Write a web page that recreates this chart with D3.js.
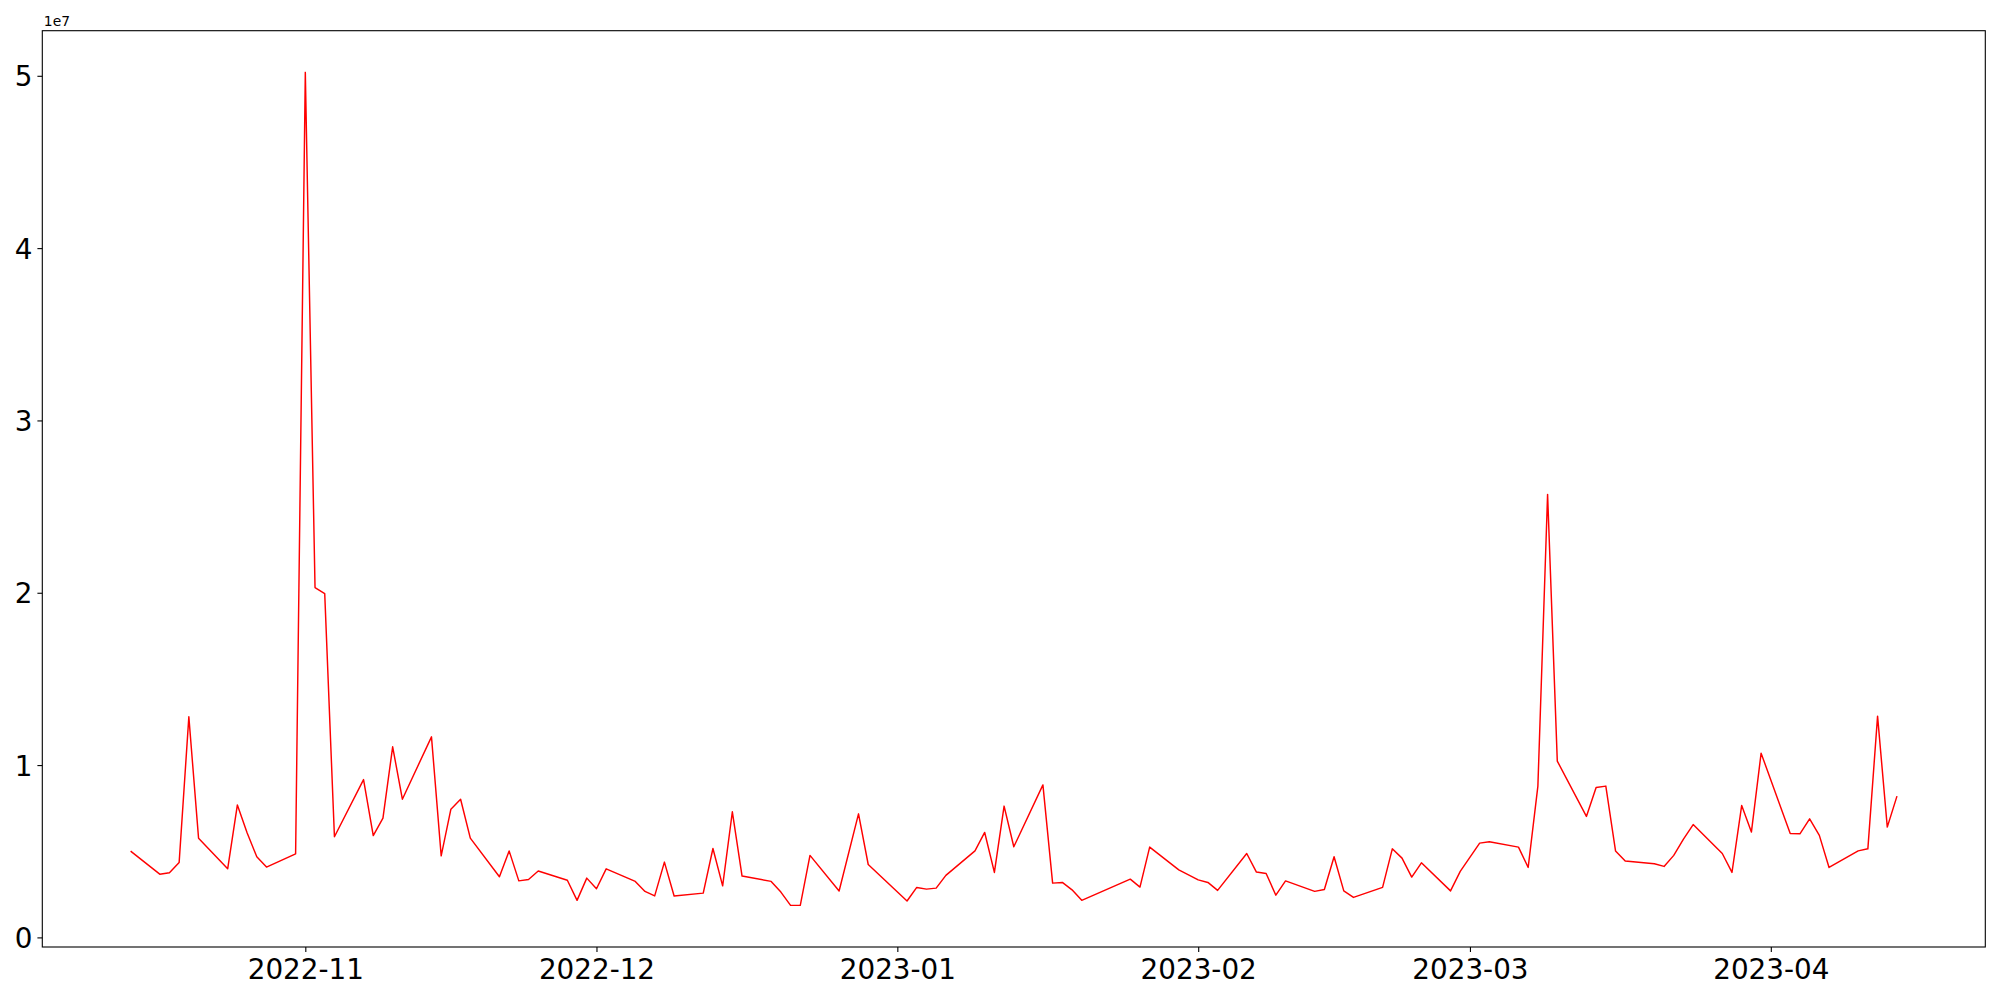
<!DOCTYPE html>
<html>
<head>
<meta charset="utf-8">
<script src="https://cdn.jsdelivr.net/npm/d3@7"></script>
<style>
  html, body { margin: 0; padding: 0; background: #fff; }
  svg { display: block; font-family: "DejaVu Sans", sans-serif; }
</style>
</head>
<body>
<svg id="chart" width="2000" height="1000"></svg>
<script>
const dates = [
  "2022-10-14","2022-10-17","2022-10-18","2022-10-19","2022-10-20","2022-10-21",
  "2022-10-24","2022-10-25","2022-10-26","2022-10-27","2022-10-28","2022-10-31",
  "2022-11-01","2022-11-02","2022-11-03","2022-11-04","2022-11-07","2022-11-08",
  "2022-11-09","2022-11-10","2022-11-11","2022-11-14","2022-11-15","2022-11-16",
  "2022-11-17","2022-11-18","2022-11-21","2022-11-22","2022-11-23","2022-11-24",
  "2022-11-25","2022-11-28","2022-11-29","2022-11-30","2022-12-01","2022-12-02",
  "2022-12-05","2022-12-06","2022-12-07","2022-12-08","2022-12-09","2022-12-12",
  "2022-12-13","2022-12-14","2022-12-15","2022-12-16","2022-12-19","2022-12-20",
  "2022-12-21","2022-12-22","2022-12-23","2022-12-26","2022-12-28","2022-12-29",
  "2023-01-02","2023-01-03","2023-01-04","2023-01-05","2023-01-06","2023-01-09",
  "2023-01-10","2023-01-11","2023-01-12","2023-01-13","2023-01-16","2023-01-17",
  "2023-01-18","2023-01-19","2023-01-20","2023-01-25","2023-01-26","2023-01-27",
  "2023-01-30","2023-02-01","2023-02-02","2023-02-03","2023-02-06","2023-02-07",
  "2023-02-08","2023-02-09","2023-02-10","2023-02-13","2023-02-14","2023-02-15",
  "2023-02-16","2023-02-17","2023-02-20","2023-02-21","2023-02-22","2023-02-23",
  "2023-02-24","2023-02-27","2023-02-28","2023-03-02","2023-03-03","2023-03-06",
  "2023-03-07","2023-03-08","2023-03-09","2023-03-10","2023-03-13","2023-03-14",
  "2023-03-15","2023-03-16","2023-03-17","2023-03-20","2023-03-21","2023-03-22",
  "2023-03-23","2023-03-24","2023-03-27","2023-03-28","2023-03-29","2023-03-30",
  "2023-03-31","2023-04-03","2023-04-04","2023-04-05","2023-04-06","2023-04-07",
  "2023-04-10","2023-04-11","2023-04-12","2023-04-13","2023-04-14"
];
const values = [
  5.01e6, 3.67e6, 3.75e6, 4.35e6, 12.80e6, 5.76e6,
  3.98e6, 7.69e6, 6.07e6, 4.68e6, 4.08e6, 4.85e6,
  50.2e6, 20.3e6, 19.95e6, 5.84e6, 9.16e6, 5.91e6,
  6.92e6, 11.06e6, 8.02e6, 11.64e6, 4.73e6, 7.44e6,
  8.02e6, 5.76e6, 3.52e6, 5.02e6, 3.28e6, 3.36e6,
  3.85e6, 3.32e6, 2.15e6, 3.44e6, 2.82e6, 3.98e6,
  3.25e6, 2.67e6, 2.41e6, 4.37e6, 2.40e6, 2.57e6,
  5.16e6, 2.99e6, 7.29e6, 3.56e6, 3.25e6, 2.63e6,
  1.86e6, 1.86e6, 4.76e6, 2.69e6, 7.17e6, 4.23e6,
  2.11e6, 2.90e6, 2.80e6, 2.86e6, 3.60e6, 5.02e6,
  6.09e6, 3.77e6, 7.62e6, 5.26e6, 8.85e6, 3.15e6,
  3.19e6, 2.76e6, 2.15e6, 3.38e6, 2.92e6, 5.24e6,
  3.92e6, 3.34e6, 3.19e6, 2.73e6, 4.87e6, 3.79e6,
  3.71e6, 2.45e6, 3.28e6, 2.67e6, 2.78e6, 4.68e6,
  2.70e6, 2.32e6, 2.90e6, 5.14e6, 4.60e6, 3.50e6,
  4.33e6, 2.70e6, 3.83e6, 5.47e6, 5.55e6, 5.24e6,
  4.06e6, 8.78e6, 25.71e6, 10.23e6, 7.02e6, 8.70e6,
  8.78e6, 5.02e6, 4.43e6, 4.27e6, 4.12e6, 4.76e6,
  5.70e6, 6.55e6, 4.87e6, 3.77e6, 7.66e6, 6.11e6,
  10.69e6, 6.03e6, 6.01e6, 6.88e6, 5.92e6, 4.06e6,
  5.02e6, 5.14e6, 12.84e6, 6.40e6, 8.20e6
];
const yTicks = [0, 1e7, 2e7, 3e7, 4e7, 5e7];
const yTickLabels = ["0", "1", "2", "3", "4", "5"];
const xTickDates = ["2022-11-01","2022-12-01","2023-01-01","2023-02-01","2023-03-01","2023-04-01"];
const xTickLabels = ["2022-11","2022-12","2023-01","2023-02","2023-03","2023-04"];
const offsetLabel = "1e7";

(function () {
const parse = d3.utcParse("%Y-%m-%d");
const data = dates.map((d, i) => ({ date: parse(d), value: values[i] }));

const pL = 42.3, pR = 1985.3, pT = 30.7, pB = 947;

const xExt = d3.extent(data, d => d.date);
const xPad = (xExt[1] - xExt[0]) * 0.05;
const x = d3.scaleUtc()
  .domain([new Date(+xExt[0] - xPad), new Date(+xExt[1] + xPad)])
  .range([pL, pR]);

const yExt = d3.extent(data, d => d.value);
const yPad = (yExt[1] - yExt[0]) * 0.05;
const y = d3.scaleLinear()
  .domain([yExt[0] - yPad, yExt[1] + yPad])
  .range([pB, pT]);

const svg = d3.select("#chart");

const line = d3.line().x(d => x(d.date)).y(d => y(d.value));
svg.append("path")
  .datum(data)
  .attr("fill", "none")
  .attr("stroke", "#ff0000")
  .attr("stroke-width", 1.45)
  .attr("stroke-linejoin", "round")
  .attr("d", line);

svg.append("rect")
  .attr("x", pL).attr("y", pT)
  .attr("width", pR - pL).attr("height", pB - pT)
  .attr("fill", "none").attr("stroke", "#000").attr("stroke-width", 1.1);

const xAxis = d3.axisBottom(x)
  .tickValues(xTickDates.map(parse))
  .tickFormat((d, i) => xTickLabels[i])
  .tickSize(4.9)
  .tickPadding(4.9);
const gx = svg.append("g").attr("transform", `translate(0,${pB})`).call(xAxis);
gx.select(".domain").remove();
gx.selectAll(".tick line").attr("stroke", "#000").attr("stroke-width", 1.1);
gx.selectAll(".tick text")
  .attr("font-size", "27.8px")
  .attr("font-family", "DejaVu Sans, sans-serif")
  .attr("fill", "#000")
  .attr("dy", null)
  .attr("y", 32);

const yAxis = d3.axisLeft(y)
  .tickValues(yTicks)
  .tickFormat((d, i) => yTickLabels[i])
  .tickSize(4.9)
  .tickPadding(4.9);
const gy = svg.append("g").attr("transform", `translate(${pL},0)`).call(yAxis);
gy.select(".domain").remove();
gy.selectAll(".tick line").attr("stroke", "#000").attr("stroke-width", 1.1);
gy.selectAll(".tick text")
  .attr("font-size", "27.8px")
  .attr("font-family", "DejaVu Sans, sans-serif")
  .attr("fill", "#000")
  .attr("dy", null)
  .attr("y", 10);

svg.append("text")
  .attr("x", pL + 1.5)
  .attr("y", pT - 5)
  .attr("font-size", "13.9px")
  .attr("fill", "#000")
  .text(offsetLabel);
})();
</script>
</body>
</html>
